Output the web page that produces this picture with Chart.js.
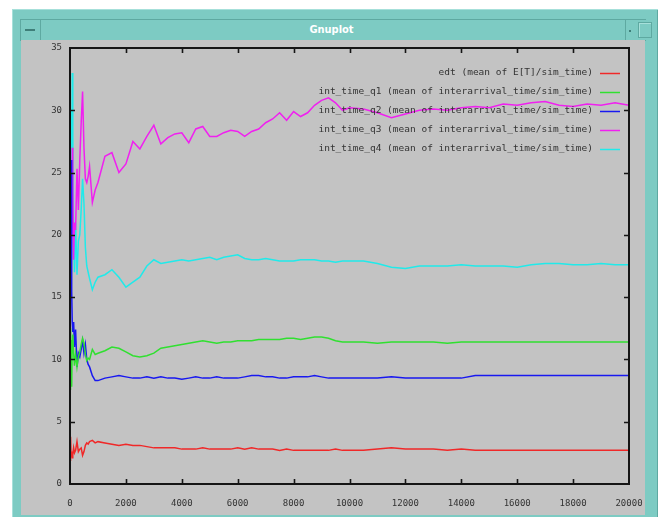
<!DOCTYPE html>
<html>
<head>
<meta charset="utf-8">
<script src="https://cdn.jsdelivr.net/npm/chart.js@4/dist/chart.umd.min.js"></script>
<style>
  body { margin: 0; background: #fff; width: 662px; height: 517px; overflow: hidden; position: relative; }
  #win { position: absolute; left: 12px; top: 9px; width: 646px; height: 510px; background: #7dcbc3;
         box-shadow: inset 1px 1px 0 #a6e0da, inset -1px 0 0 #5ea9a1; }
  #bar { position: absolute; left: 8px; top: 10px; width: 625px; height: 20px; background: #7dcbc3;
         border-top: 1px solid #5ea9a1; border-bottom: 1px solid #5ea9a1; border-left: 1px solid #5ea9a1; }
  #btn-l { position: absolute; left: 0; top: 0; width: 19px; height: 20px; border-right: 1px solid #5ea9a1; }
  #btn-l:after { content: ''; position: absolute; left: 4px; top: 9px; width: 10px; height: 2px; background: #3f7f79; }
  #btn-r1 { position: absolute; left: 604px; top: 0; width: 10px; height: 20px; border-left: 1px solid #5ea9a1; }
  #btn-r1:after { content: ''; position: absolute; left: 3px; top: 10px; width: 2px; height: 2px; background: #3f7f79; }
  #btn-r2 { position: absolute; left: 617px; top: 2px; width: 12px; height: 14px; border: 1px solid #5ea9a1; box-shadow: inset 1px 1px 0 #a6e0da; }
  #title { position: absolute; left: 20px; right: 24px; top: 3px; text-align: center; color: #fff;
           font: bold 11px "DejaVu Sans Condensed", "DejaVu Sans", sans-serif; }
  #pane { position: absolute; left: 9px; top: 31px; width: 624px; height: 475px; background: #c3c3c3; }
</style>
</head>
<body>
<div id="win">
  <div id="bar"><div id="btn-l"></div><div id="title">Gnuplot</div><div id="btn-r1"></div><div id="btn-r2"></div></div>
  <div id="pane"><canvas id="c" width="624" height="475"></canvas></div>
</div>
<script>
// sample points (simulated time)
const steps = [0,20,40,60,80,100,130,160,200,250,300,350,400,450,500,550,600,650,700,800,900,1000,
  1250,1500,1750,2000,2250,2500,2750,3000,3250,3500,
  3750,4000,4250,4500,4750,5000,5250,5500,5750,6000,
  6250,6500,6750,7000,7250,7500,7750,8000,8250,8500,
  8750,9000,9250,9500,9750,10000,
  10500,11000,11500,12000,12500,13000,13500,14000,14500,15000,15500,16000,16500,17000,17500,18000,18500,19000,19500,20000];

const edt = [1.9,3.8,2.2,2.6,2.1,2.4,2.9,2.5,2.7,3.4,2.6,2.8,2.9,2.3,2.6,3.1,3.3,3.2,3.4,3.5,3.3,3.4,
  3.3,3.2,3.1,3.2,3.1,3.1,3.0,2.9,2.9,2.9,
  2.9,2.8,2.8,2.8,2.9,2.8,2.8,2.8,2.8,2.9,
  2.8,2.9,2.8,2.8,2.8,2.7,2.8,2.7,2.7,2.7,
  2.7,2.7,2.7,2.8,2.7,2.7,
  2.7,2.8,2.9,2.8,2.8,2.8,2.7,2.8,2.7,2.7,2.7,2.7,2.7,2.7,2.7,2.7,2.7,2.7,2.7,2.7];

const q1 = [7.6,12.5,10.8,7.8,11.5,12.0,10.5,9.5,10.4,9.4,10.2,10.6,11.2,11.7,11.3,10.4,9.9,10.1,10.0,10.8,10.4,10.5,
  10.7,11.0,10.9,10.6,10.3,10.2,10.3,10.5,10.9,11.0,
  11.1,11.2,11.3,11.4,11.5,11.4,11.3,11.4,11.4,11.5,
  11.5,11.5,11.6,11.6,11.6,11.6,11.7,11.7,11.6,11.7,
  11.8,11.8,11.7,11.5,11.4,11.4,
  11.4,11.3,11.4,11.4,11.4,11.4,11.3,11.4,11.4,11.4,11.4,11.4,11.4,11.4,11.4,11.4,11.4,11.4,11.4,11.4];

const q2 = [15.0,18.0,26.0,15.5,13.0,12.2,13.0,11.0,12.4,9.4,10.5,10.2,10.8,11.5,10.5,11.2,10.0,9.6,9.4,8.7,8.3,8.3,
  8.5,8.6,8.7,8.6,8.5,8.5,8.6,8.5,8.6,8.5,
  8.5,8.4,8.5,8.6,8.5,8.5,8.6,8.5,8.5,8.5,
  8.6,8.7,8.7,8.6,8.6,8.5,8.5,8.6,8.6,8.6,
  8.7,8.6,8.5,8.5,8.5,8.5,
  8.5,8.5,8.6,8.5,8.5,8.5,8.5,8.5,8.7,8.7,8.7,8.7,8.7,8.7,8.7,8.7,8.7,8.7,8.7,8.7];

const q3 = [15.5,17.0,24.0,20.0,27.0,23.5,18.0,21.0,20.4,25.3,22.0,26.0,29.0,31.5,27.0,24.5,24.2,24.7,25.5,22.6,23.6,24.2,
  26.3,26.6,25.0,25.7,27.5,26.9,27.9,28.8,27.3,27.8,
  28.1,28.2,27.4,28.5,28.7,27.9,27.9,28.2,28.4,28.3,
  27.9,28.3,28.5,29.0,29.3,29.8,29.2,29.9,29.5,29.8,
  30.4,30.8,31.0,30.6,30.0,30.2,
  30.1,29.8,29.4,29.7,30.0,30.1,30.0,30.2,30.3,30.2,30.5,30.4,30.6,30.7,30.4,30.3,30.5,30.4,30.6,30.4];

const q4 = [15.0,21.0,30.0,25.0,33.0,28.0,20.0,17.0,21.0,16.8,19.5,20.0,22.0,24.5,22.5,19.0,17.5,17.0,16.5,15.6,16.2,16.6,
  16.8,17.2,16.6,15.8,16.2,16.6,17.5,18.0,17.7,17.8,
  17.9,18.0,17.9,18.0,18.1,18.2,18.0,18.2,18.3,18.4,
  18.1,18.0,18.0,18.1,18.0,17.9,17.9,17.9,18.0,18.0,
  18.0,17.9,17.9,17.8,17.9,17.9,
  17.9,17.7,17.4,17.3,17.5,17.5,17.5,17.6,17.5,17.5,17.5,17.4,17.6,17.7,17.7,17.6,17.6,17.7,17.6,17.6];

const seriesLabels = [
  'edt (mean of E[T]/sim_time)',
  'int_time_q1 (mean of interarrival_time/sim_time)',
  'int_time_q2 (mean of interarrival_time/sim_time)',
  'int_time_q3 (mean of interarrival_time/sim_time)',
  'int_time_q4 (mean of interarrival_time/sim_time)'
];
const seriesColors = ['#f02828', '#30e030', '#1818f0', '#f020f0', '#20eaea'];
const seriesData = [edt, q1, q2, q3, q4];

const textCol = '#333';
const monoFont = { family: '"DejaVu Sans Mono", monospace', size: 9 };

// gnuplot-style frame: box border, inward ticks on all four sides, legend top-right
const gnuFrame = {
  id: 'gnuFrame',
  afterDatasetsDraw(chart) {
    const { ctx, chartArea: a, scales } = chart;
    ctx.save();
    ctx.strokeStyle = '#151515';
    ctx.lineWidth = 1.6;
    const tl = 5;
    ctx.beginPath();
    scales.x.ticks.forEach(t => {
      const px = Math.round(scales.x.getPixelForValue(t.value)) + 0.5;
      if (t.value <= 0 || t.value >= 20000) return;
      ctx.moveTo(px, a.bottom); ctx.lineTo(px, a.bottom - tl);
      ctx.moveTo(px, a.top); ctx.lineTo(px, a.top + tl);
    });
    scales.y.ticks.forEach(t => {
      const py = Math.round(scales.y.getPixelForValue(t.value)) + 0.5;
      if (t.value <= 0 || t.value >= 35) return;
      ctx.moveTo(a.left, py); ctx.lineTo(a.left + tl, py);
      ctx.moveTo(a.right, py); ctx.lineTo(a.right - tl, py);
    });
    ctx.stroke();
    ctx.lineWidth = 2;
    ctx.strokeRect(a.left, a.top, a.right - a.left, a.bottom - a.top);

    // legend
    ctx.font = '9.5px "DejaVu Sans Mono", monospace';
    ctx.textAlign = 'right';
    ctx.textBaseline = 'middle';
    chart.data.datasets.forEach((ds, i) => {
      const y = a.top + 25 + i * 19;
      ctx.fillStyle = textCol;
      ctx.fillText(ds.label, a.right - 36, y);
      ctx.strokeStyle = ds.borderColor;
      ctx.lineWidth = 1.5;
      ctx.beginPath();
      ctx.moveTo(a.right - 29, y + 0.5); ctx.lineTo(a.right - 9, y + 0.5);
      ctx.stroke();
    });
    ctx.restore();
  }
};

new Chart(document.getElementById('c'), {
  type: 'line',
  data: {
    datasets: seriesData.map((vals, i) => ({
      label: seriesLabels[i],
      data: steps.map((s, k) => ({ x: s, y: vals[k] })),
      borderColor: seriesColors[i],
      backgroundColor: 'transparent',
      borderWidth: 1.5,
      pointRadius: 0,
      tension: 0
    }))
  },
  options: {
    responsive: false, animation: false,
    layout: { padding: { top: 8, right: 16, left: 0, bottom: 0 } },
    plugins: { legend: { display: false }, tooltip: { enabled: false } },
    scales: {
      x: {
        type: 'linear', min: 0, max: 20000,
        afterFit: s => { s.height = 31; s.paddingLeft = 0; s.paddingRight = 0; },
        grid: { display: false, drawTicks: false },
        border: { display: false },
        ticks: { stepSize: 2000, color: textCol, font: monoFont, padding: 14, maxRotation: 0, autoSkip: false,
                 callback: v => String(v) }
      },
      y: {
        min: 0, max: 35,
        afterFit: s => { s.width = 49; s.paddingTop = 0; s.paddingBottom = 0; },
        grid: { display: false, drawTicks: false },
        border: { display: false },
        ticks: { stepSize: 5, color: textCol, font: monoFont, padding: 8 }
      }
    }
  },
  plugins: [gnuFrame]
});
</script>
</body>
</html>
